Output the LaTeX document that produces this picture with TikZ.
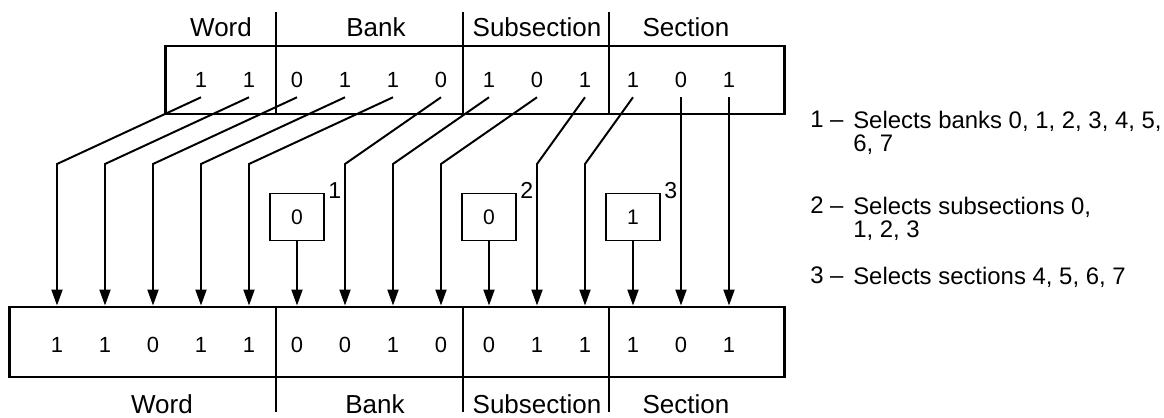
\documentclass[tikz,border=0pt]{standalone}
\usepackage{fontspec}
\setmainfont{Liberation Sans}
\usetikzlibrary{arrows.meta}

\tikzset{
  regbox/.style={draw, line width=2.1pt, inner sep=0pt},
  bit/.style={inner sep=0pt, minimum height=0.85cm, font=\fontsize{15.6}{18}\selectfont},
  field/.style={inner sep=0pt, font=\fontsize{18.5}{22}\selectfont},
  selbox/.style={draw, line width=1.4pt, minimum width=1.35cm, minimum height=1.175cm, inner sep=0pt, font=\fontsize{15}{18}\selectfont},
  tag/.style={inner sep=0pt, font=\fontsize{16.4}{19}\selectfont},
  legend/.style={inner sep=0pt, align=left, font=\fontsize{17}{16.4}\selectfont},
  wire/.style={line width=1.4pt},
  feed/.style={wire, -{Triangle[length=0.4cm,width=0.275cm]}}
}

\begin{document}
\begin{tikzpicture}[x=0.025cm,y=-0.025cm]
    \useasboundingbox (0,0) rectangle (1164,417);
    % address as issued
    \node[regbox, minimum width=15.45cm, minimum height=1.7cm] (treg) at (475,80) {};
    \draw[wire] (276,12) -- (276,114);
    \draw[wire] (463,12) -- (463,114);
    \draw[wire] (609,12) -- (609,114);
    \node[field] (wordt) at (221,27) {Word};
    \node[field] (bankt) at (376,27) {Bank};
    \node[field] (subt) at (537,27) {Subsection};
    \node[field] (sect) at (686,27) {Section};
    \foreach \v [count=\i from 0] in {1,1,0,1,1,0,1,0,1,1,0,1}
      \node[bit] (t\i) at (201+48*\i,80) {\v};
    % address as used
    \node[regbox, minimum width=19.35cm, minimum height=1.75cm] (breg) at (397,342) {};
    \draw[wire] (276,307) -- (276,412);
    \draw[wire] (463,307) -- (463,412);
    \draw[wire] (609,307) -- (609,412);
    \node[field] (wordb) at (162,404) {Word};
    \node[field] (bankb) at (375,404) {Bank};
    \node[field] (subb) at (537,404) {Subsection};
    \node[field] (secb) at (686,404) {Section};
    \foreach \v [count=\i from 0] in {1,1,0,1,1,0,0,1,0,0,1,1,1,0,1}
      \node[bit] (b\i) at (57+48*\i,345) {\v};
    % bit moves
    \coordinate (bend) at (0,164);
    \coordinate (selrow) at (0,217);
    \foreach \j/\k in {0/0,1/1,2/2,3/3,4/4,5/6,6/7,7/8,8/10,9/11}
      \draw[feed] (t\j.south) -- (b\k |- bend) -- (b\k |- breg.north);
    \foreach \j/\k in {10/13,11/14}
      \draw[feed] (t\j.south) -- (b\k |- breg.north);
    % inserted bits
    \node[selbox] (s1) at (b5 |- selrow) {0};
    \node[selbox] (s2) at (b9 |- selrow) {0};
    \node[selbox] (s3) at (b12 |- selrow) {1};
    \node[tag, anchor=west, xshift=0.08cm, yshift=0.05cm] (n1) at (s1.north east) {1};
    \node[tag, anchor=west, xshift=0.08cm, yshift=0.05cm] (n2) at (s2.north east) {2};
    \node[tag, anchor=west, xshift=0.08cm, yshift=0.05cm] (n3) at (s3.north east) {3};
    \draw[feed] (s1) -- (b5 |- breg.north);
    \draw[feed] (s2) -- (b9 |- breg.north);
    \draw[feed] (s3) -- (b12 |- breg.north);
    % legend
    \node[legend, anchor=north west] (k1) at (810,111) {1 –};
    \node[legend, anchor=north west] (d1) at (853,111) {Selects banks 0, 1, 2, 3, 4, 5,\\6, 7};
    \node[legend, anchor=north west] (k2) at (810,197) {2 –};
    \node[legend, anchor=north west] (d2) at (853,197) {Selects subsections 0,\\1, 2, 3};
    \node[legend, anchor=north west] (k3) at (810,267) {3 –};
    \node[legend, anchor=north west] (d3) at (853,267) {Selects sections 4, 5, 6, 7};
  \end{tikzpicture}
\end{document}
